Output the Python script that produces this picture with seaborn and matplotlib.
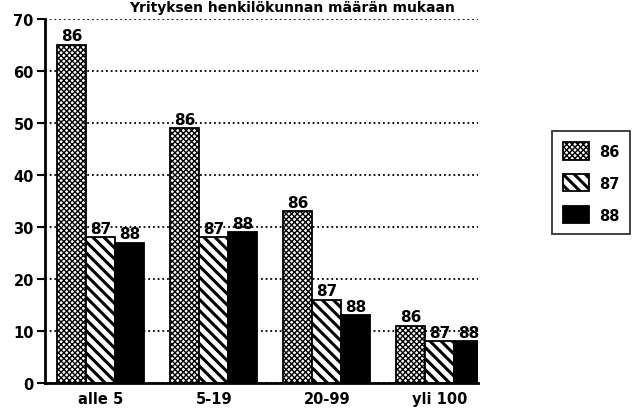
import matplotlib

matplotlib.use("Agg")
import matplotlib.pyplot as plt  # noqa: E402
import pandas as pd
import seaborn as sns

categories = ["alle 5", "5-19", "20-99", "yli 100"]
years = ["86", "87", "88"]
values_86 = [65, 49, 33, 11]
values_87 = [28, 28, 16, 8]
values_88 = [27, 29, 13, 8]
title = "Yrityksen henkilökunnan määrän mukaan"

rows = []
for year, vals in zip(years, [values_86, values_87, values_88]):
    for cat, v in zip(categories, vals):
        rows.append({"koko": cat, "vuosi": year, "osuus": v})
df = pd.DataFrame(rows)

sns.set_theme(style="white")
plt.rcParams["font.family"] = ["DejaVu Sans"]
plt.rcParams["hatch.color"] = "black"
plt.rcParams["text.color"] = "black"

# fill / hatch / hatch width per year
styles = {
    "86": ("white", "xxxxxx", 1.0),
    "87": ("white", "\\\\\\", 2.2),
    "88": ("black", "", 1.0),
}

fig = plt.figure(figsize=(6.33, 4.14), dpi=100)
ax = fig.add_axes([0.071, 0.0725, 0.684, 0.8795])

sns.barplot(
    data=df, x="koko", y="osuus", hue="vuosi", order=categories, hue_order=years,
    palette={y: styles[y][0] for y in years}, width=0.77, gap=0,
    edgecolor="black", linewidth=1.3, legend=False, ax=ax,
)

for year, cont in zip(years, ax.containers):
    _, hatch, hlw = styles[year]
    for p in cont:
        p.set_hatch(hatch)
        if hasattr(p, "set_hatch_linewidth"):
            p.set_hatch_linewidth(hlw)
    ax.bar_label(cont, labels=[year] * len(cont), padding=1,
                 fontsize=11, fontweight="bold", color="black")

ax.set_xlim(-0.496, 3.336)
ax.set_ylim(0, 70)
ax.set_yticks(range(0, 71, 10))
ax.set_xlabel("")
ax.set_ylabel("")

ax.set_axisbelow(True)
ax.yaxis.grid(True, color="black", linestyle=(0, (1, 1.6)), linewidth=1.3)
ax.xaxis.grid(False)
for side in ["top", "right"]:
    ax.spines[side].set_visible(False)
for side in ["left", "bottom"]:
    ax.spines[side].set_color("black")
    ax.spines[side].set_linewidth(2)
ax.tick_params(axis="y", direction="out", length=6, width=1.5, left=True,
               labelsize=10.5, pad=2, colors="black")
ax.tick_params(axis="x", length=0, labelsize=10.5, pad=6, colors="black")
for lab in ax.get_xticklabels() + ax.get_yticklabels():
    lab.set_fontweight("bold")

fig.text(0.462, 0.998, title, ha="center", va="top",
         fontsize=10, fontweight="bold")

handles = [c.patches[0] for c in ax.containers]
leg = fig.legend(handles, years, loc="center", bbox_to_anchor=(0.934, 0.556),
                 frameon=True, fancybox=False, edgecolor="black",
                 prop={"weight": "bold", "size": 10.5},
                 handlelength=1.75, handleheight=1.45, labelspacing=1.0,
                 handletextpad=0.7, borderpad=0.75, borderaxespad=0)
leg.get_frame().set_linewidth(1.3)
for year, h in zip(years, leg.legend_handles):
    h.set_hatch(styles[year][1])
    if hasattr(h, "set_hatch_linewidth"):
        h.set_hatch_linewidth(styles[year][2])

fig.savefig("out.png", dpi=100)
